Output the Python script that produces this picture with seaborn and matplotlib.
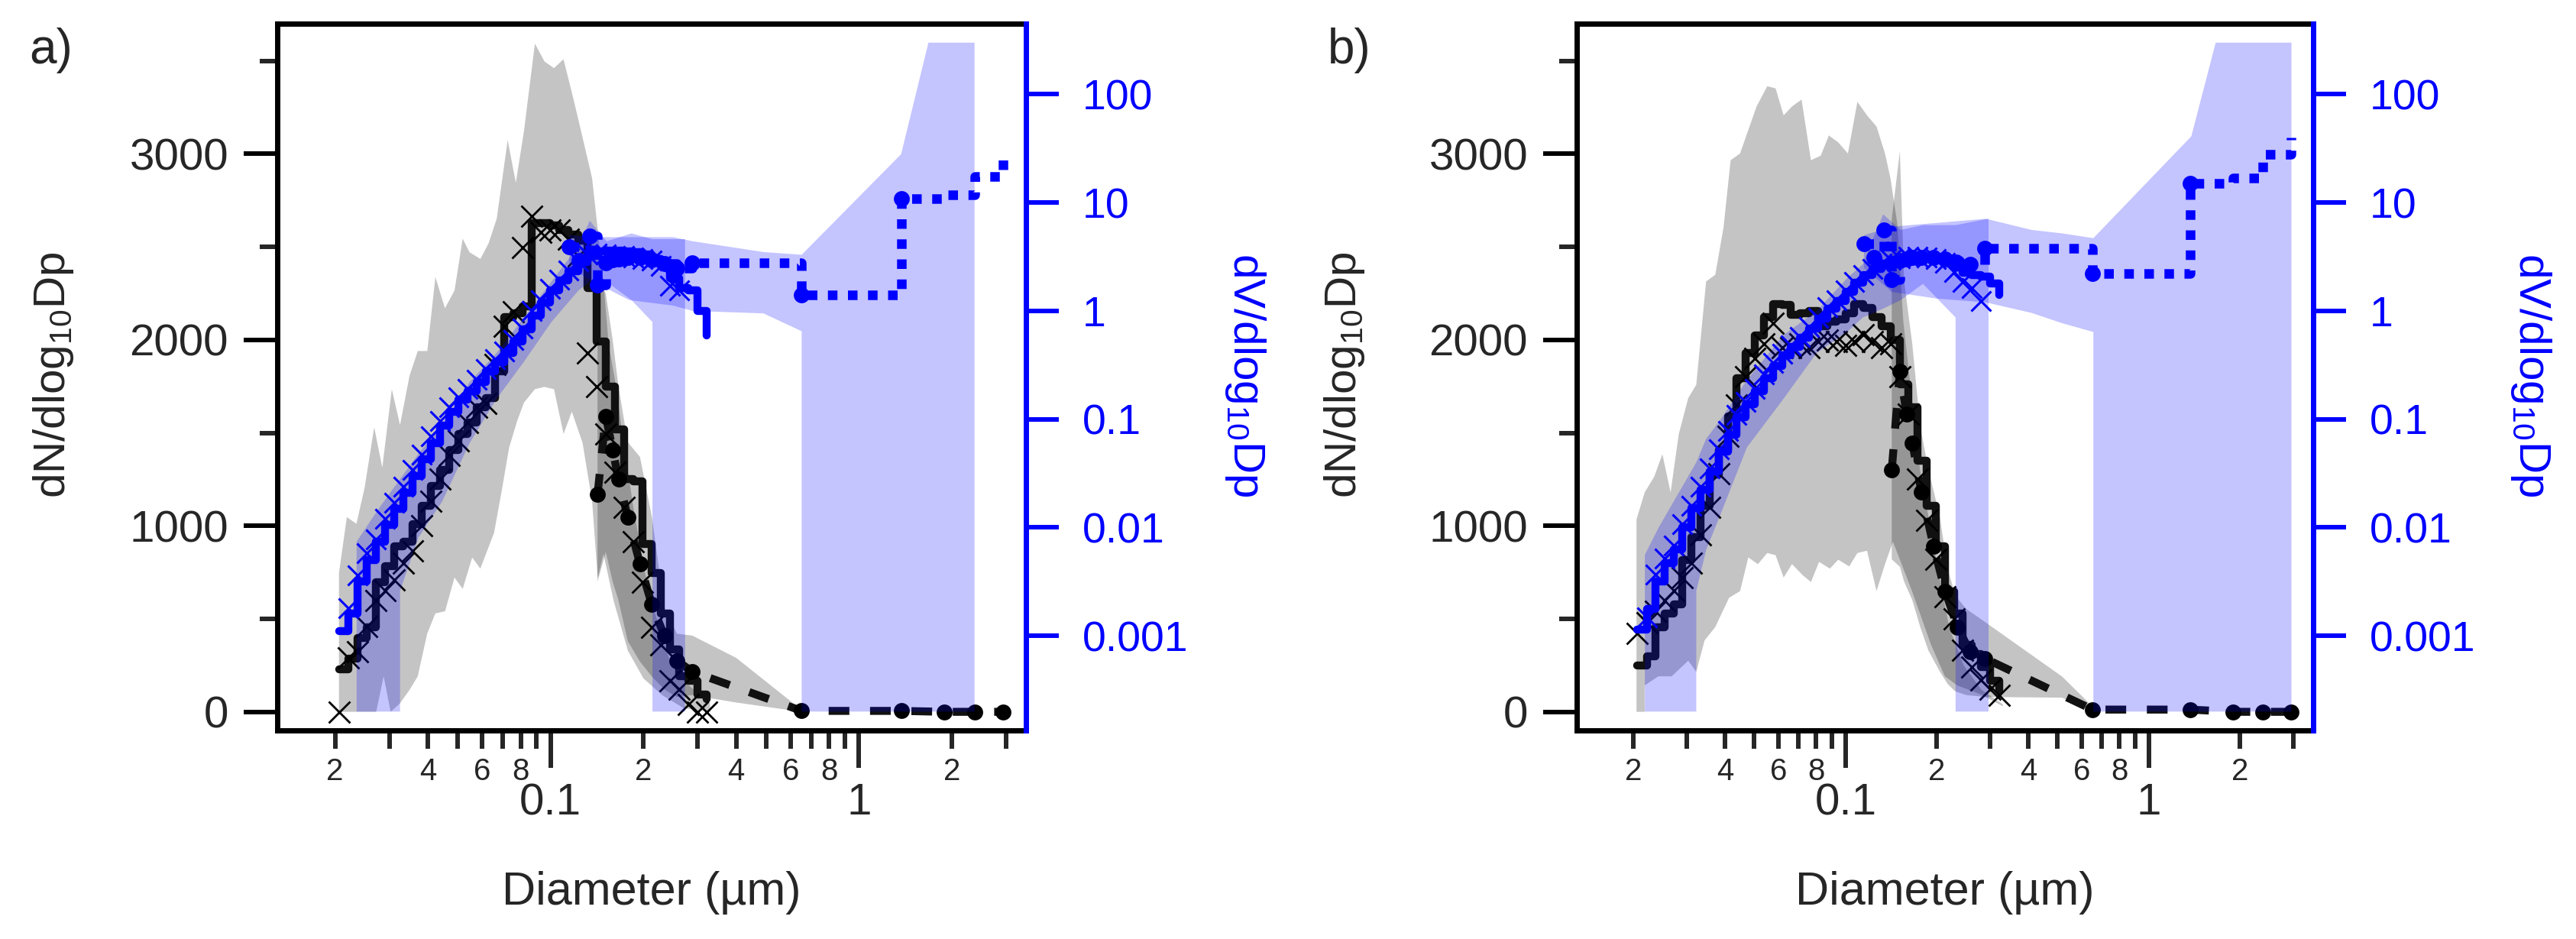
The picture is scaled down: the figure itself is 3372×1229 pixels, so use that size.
import numpy as np
import seaborn as sns
import matplotlib
matplotlib.use("Agg")
import matplotlib.pyplot as plt
from matplotlib.ticker import MultipleLocator, FixedLocator, FixedFormatter, NullLocator

nan = np.nan

# SMPS bin diameters (um)
smps_d = [0.0206, 0.0221, 0.0236, 0.0253, 0.0271, 0.0290, 0.0311, 0.0333, 0.0357, 0.0382,
          0.0409, 0.0438, 0.0469, 0.0503, 0.0538, 0.0577, 0.0618, 0.0661, 0.0708, 0.0759,
          0.0813, 0.0870, 0.0932, 0.0998, 0.1069, 0.1145, 0.1227, 0.1314, 0.1407, 0.1507,
          0.1614, 0.1729, 0.1852, 0.1983, 0.2124, 0.2275, 0.2437, 0.2610, 0.2795, 0.2994, 0.3206]

# panel a - number (step) and number (x markers)
n_step_a = [227, 287, 396, 456, 697, 782, 891, 915, 1011, 1108, 1216, 1301, 1409, 1494, 1554,
            1639, 1687, 1832, 2121, 2145, 2182, 2628, 2628, 2616, 2592, 2568, 2532, 2278, 1989,
            1747, 1518, 1252, 1240, 903, 746, 529, 335, 191, 167, 94, 70]
n_x_a = [0, 290, 324, 460, 600, 650, 710, 800, 866, 1000, 1132, 1253, 1380, 1458, 1554, 1638,
         1660, 1868, 2073, 2150, 2495, 2664, 2580, 2592, 2592, 2540, 2450, 1928, 1747, 1494,
         1289, 1100, 915, 698, 456, 360, 166, 120, 40, 0, 0]
# panel a - volume
v_step_a = [0.0011, 0.0016, 0.0032, 0.0050, 0.0074, 0.0105, 0.0148, 0.021, 0.030, 0.043,
            0.060, 0.087, 0.117, 0.151, 0.182, 0.219, 0.275, 0.339, 0.407, 0.525, 0.676, 0.912,
            1.20, 1.55, 1.91, 2.34, 2.82, 3.24, 3.55, 3.63, 3.63, 3.55, 3.47, 3.31, 3.02, 2.63,
            2.0, 1.62, 1.55, 1.0, 0.59]
v_x_a = [0.0011, 0.0018, 0.0036, 0.0058, 0.0078, 0.0120, 0.0170, 0.024, 0.034, 0.047,
         0.070, 0.097, 0.13, 0.16, 0.19, 0.23, 0.29, 0.36, 0.42, 0.54, 0.69, 1.0,
         1.25, 1.6, 1.95, 2.37, 2.86, 3.3, 3.4, 3.3, 3.2, 3.2, 3.1, 3.0, 2.9, 2.6,
         1.7, 1.55, 1.5, 1.0, 0.59]

# panel b
n_step_b = [251, 299, 456, 529, 577, 818, 939, 1108, 1277, 1409, 1590, 1795, 1928, 2025, 2121,
            2194, 2189, 2133, 2145, 2157, 2073, 2097, 2109, 2145, 2194, 2170, 2121, 2073, 2000,
            1759, 1639, 1349, 1108, 891, 649, 529, 360, 311, 239, 167, 118]
n_x_b = [420, 480, 540, 600, 650, 720, 800, 950, 1100, 1280, 1480, 1650, 1800, 1900, 1980,
         2090, 1960, 1960, 1980, 1960, 1990, 2000, 1990, 1970, 1990, 2030, 1990, 1960, 1980,
         1800, 1600, 1250, 1030, 820, 620, 500, 330, 240, 170, 120, 90]
v_step_b = [0.00115, 0.00178, 0.00316, 0.00468, 0.0063, 0.0100, 0.0151, 0.0224, 0.0331, 0.0501,
            0.0724, 0.105, 0.138, 0.182, 0.240, 0.309, 0.389, 0.468, 0.562, 0.692, 0.851, 1.05,
            1.23, 1.51, 1.82, 2.14, 2.45, 2.75, 2.95, 3.09, 3.16, 3.16, 3.16, 3.09, 2.82, 2.51,
            2.24, 2.14, 2.09, 1.78, 1.41]
v_x_b = [0.00115, 0.00148, 0.0037, 0.0052, 0.0068, 0.0108, 0.0160, 0.024, 0.035, 0.053,
         0.078, 0.11, 0.145, 0.19, 0.26, 0.33, 0.40, 0.48, 0.58, 0.71, 0.87, 1.08,
         1.26, 1.55, 1.86, 2.14, 2.45, 2.75, 2.95, 3.09, 3.16, 3.16, 3.1, 3.0, 2.8, 2.29,
         1.86, 1.62, 1.23, 1.78, 1.41]

# OPC bins
opc_d = [0.115, 0.124, 0.134, 0.142, 0.151, 0.159, 0.166, 0.178, 0.195, 0.213, 0.234, 0.257,
         0.288, 0.652, 1.37, 1.89, 2.37, 2.94]
opc_n_a = [nan, nan, nan, 1168, 1590, 1409, 1252, 1047, 794, 577, 408, 275, 216, 5, 5, 0, 0, 0]
opc_v_a = [3.9, 2.9, 4.9, 1.74, 2.8, 2.95, 3.0, 3.1, 3.1, 2.95, 2.75, 2.5, 2.8, 1.4, 10.8, 11.8, 17.4, 30]
opc_n_b = [nan, nan, nan, 1301, 1832, 1602, 1446, 1180, 891, 649, 456, 323, 287, 12, 12, 0, 0, 0]
opc_v_b = [4.19, 3.14, 5.6, 1.95, 2.9, 3.0, 3.1, 3.1, 3.1, 3.0, 2.8, 2.7, 3.8, 2.2, 15.0, 17.0, 27.9, 40]

# gray bands (number), panel a
ga_up_x = [0.0206, 0.02185, 0.02347, 0.02494, 0.0268, 0.02847, 0.03057, 0.0325, 0.03489, 0.0371,
           0.03984, 0.04232, 0.04545, 0.04883, 0.05189, 0.0546, 0.05923, 0.06295, 0.06691, 0.0726,
           0.07716, 0.082, 0.08896, 0.09554, 0.10259, 0.11015, 0.11829, 0.12704, 0.13637, 0.1484,
           0.1543, 0.1637, 0.1709, 0.1852, 0.201, 0.2183, 0.2423, 0.2804, 0.3289]
ga_up = [746, 1047, 1011, 1204, 1530, 1313, 1735, 1542, 1807, 1940, 1940, 2338, 2170, 2266, 2544,
         2471, 2435, 2519, 2652, 3074, 2845, 3123, 3593, 3497, 3461, 3509, 3304, 3087, 2869, 2314,
         1976, 1735, 1494, 1108, 770, 529, 287, 143, 46]
ga_lo_x = [0.0206, 0.0235, 0.0272, 0.02876, 0.0303, 0.0325, 0.0349, 0.0371, 0.0398, 0.0423,
           0.0455, 0.0488, 0.0519, 0.0557, 0.0592, 0.0656, 0.0697, 0.0734, 0.078, 0.082,
           0.089, 0.0955, 0.1026, 0.1102, 0.1172, 0.127, 0.1364, 0.1422, 0.1484, 0.16,
           0.178, 0.2, 0.23, 0.27, 0.3289]
ga_lo = [0, 0, 0, 191, 0, 46, 118, 191, 420, 529, 541, 722, 661, 830, 770, 963, 1204, 1421, 1566,
         1663, 1735, 1747, 1735, 1494, 1614, 1446, 1132, 720, 850, 600, 330, 180, 90, 20, 0]
go_a_x = [0.142, 0.151, 0.159, 0.166, 0.178, 0.195, 0.213, 0.234, 0.257, 0.288, 0.40, 0.652]
go_a_up = [2330, 2250, 2000, 1750, 1450, 1370, 1050, 560, 420, 410, 290, 10]
go_a_lo = [700, 860, 700, 600, 380, 270, 190, 120, 80, 90, 50, 0]

# gray bands (number), panel b
gb_up_x = [0.02046, 0.02177, 0.0234, 0.0249, 0.0265, 0.0282, 0.0303, 0.0322, 0.0347, 0.0372,
           0.0396, 0.0418, 0.0449, 0.0509, 0.0552, 0.0588, 0.0625, 0.0666, 0.0716, 0.0769,
           0.0828, 0.0881, 0.0946, 0.1018, 0.1094, 0.1177, 0.1265, 0.1349, 0.1406, 0.148,
           0.155, 0.165, 0.176, 0.19, 0.205, 0.22, 0.245, 0.28, 0.33]
gb_up = [1035, 1180, 1264, 1385, 1180, 1494, 1687, 1759, 2314, 2350, 2604, 2966, 3002, 3255, 3364,
         3352, 3207, 3255, 3292, 2966, 2990, 3099, 3062, 3002, 3280, 3207, 3147, 3002, 2869, 2628,
         2100, 1700, 1300, 1000, 700, 450, 250, 120, 40]
gb_lo_x = [0.02046, 0.02177, 0.02177, 0.02415, 0.02673, 0.0303, 0.0322, 0.0343, 0.0372, 0.0413,
           0.0449, 0.0478, 0.0514, 0.0552, 0.0588, 0.0625, 0.0666, 0.0723, 0.0769, 0.0818,
           0.0888, 0.0946, 0.1028, 0.1094, 0.1177, 0.1265, 0.1349, 0.1433, 0.1656, 0.1914,
           0.2125, 0.2335, 0.2786, 0.33]
gb_lo = [0, 0, 142, 191, 191, 275, 215, 384, 456, 613, 649, 830, 794, 854, 842, 722, 794, 734,
         698, 806, 770, 818, 782, 854, 866, 649, 794, 915, 649, 360, 191, 142, 94, 30]
go_b_x = [0.142, 0.151, 0.156, 0.166, 0.176, 0.1875, 0.204, 0.217, 0.23, 0.25, 0.29, 0.518, 0.652]
go_b_up = [2650, 3014, 2314, 1976, 1542, 1301, 1059, 770, 625, 553, 480, 189, 28]
go_b_lo = [820, 780, 700, 600, 460, 330, 220, 150, 110, 90, 80, 76, 0]

# blue bands (volume), panel a
bsa_x = [0.0235, 0.0275, 0.0325, 0.0325, 0.0373, 0.0445, 0.0546, 0.0669, 0.082, 0.1006, 0.1233,
         0.134, 0.152, 0.183, 0.214, 0.214, 0.273]
bsa_up = [0.0074, 0.0145, 0.028, 0.028, 0.048, 0.089, 0.22, 0.41, 0.87, 1.86, 4.0, 6.8, 4.4, 5.2,
          4.6, 4.6, 4.6]
bsa_lo = [2e-4, 2e-4, 2e-4, 0.0026, 0.0081, 0.0174, 0.060, 0.155, 0.34, 0.79, 1.55, 1.86, 1.86,
          1.26, 0.79, 2e-4, 2e-4]
boa_x = [0.115, 0.142, 0.18, 0.25, 0.289, 0.49, 0.652, 0.652, 1.37, 1.68, 2.37]
boa_up = [5.0, 4.8, 4.8, 4.8, 4.4, 3.5, 3.3, 3.3, 28, 300, 300]
boa_lo = [2.5, 1.78, 1.26, 1.12, 1.0, 0.95, 0.65, 2e-4, 2e-4, 2e-4, 2e-4]

# blue bands (volume), panel b
bsb_x = [0.0218, 0.0242, 0.0297, 0.0322, 0.0322, 0.0347, 0.0386, 0.0473, 0.0625, 0.0803, 0.1018,
         0.114, 0.133, 0.152, 0.18, 0.2305, 0.2305, 0.296]
bsb_up = [0.0056, 0.010, 0.027, 0.04, 0.04, 0.066, 0.098, 0.23, 0.6, 1.0, 2.04, 2.7, 7.8, 5.6,
          6.2, 6.2, 6.2, 7.1]
bsb_lo = [2e-4, 2e-4, 2e-4, 2e-4, 0.0026, 0.0062, 0.013, 0.055, 0.155, 0.41, 0.65, 0.87, 1.05,
          1.26, 1.78, 0.87, 2e-4, 2e-4]
bob_x = [0.115, 0.142, 0.2, 0.29, 0.41, 0.518, 0.656, 0.656, 1.38, 1.66, 2.95]
bob_up = [5.0, 6.0, 6.5, 7.1, 5.6, 5.2, 4.7, 4.7, 41, 300, 300]
bob_lo = [2.5, 1.5, 1.3, 1.2, 0.96, 0.77, 0.64, 2e-4, 2e-4, 2e-4, 2e-4]

x_minor = [0.02, 0.03, 0.04, 0.05, 0.06, 0.07, 0.08, 0.09,
           0.2, 0.3, 0.4, 0.5, 0.6, 0.7, 0.8, 0.9, 2, 3]
x_minor_lab = ["2", "", "4", "", "6", "", "8", "", "2", "", "4", "", "6", "", "8", "", "2", ""]
v_ticks = [0.001, 0.01, 0.1, 1, 10, 100]
v_tick_lab = ["0.001", "0.01", "0.1", "1", "10", "100"]

BLUE = "#0000ff"

sns.set_theme(style="ticks")
plt.rcParams["font.family"] = ["Liberation Sans", "DejaVu Sans"]
plt.rcParams["mathtext.fontset"] = "custom"
plt.rcParams["mathtext.rm"] = "Liberation Sans"
plt.rcParams["mathtext.it"] = "Liberation Sans:italic"


def band(ax, xu, yu, xl, yl, color):
    xs = list(xu) + list(xl)[::-1]
    ys = list(yu) + list(yl)[::-1]
    ax.fill(xs, ys, color=color, alpha=0.23, lw=0, zorder=1)


def panel(ax, n_step, n_x, v_step, v_x, vx_stop, opc_n, opc_v,
          g1, g2, b1, b2, ylab_x, y2lab_x):
    ax.set_xscale("log")
    ax.set_xlim(0.0130, 3.48)
    ax.set_ylim(-100, 3700)

    band(ax, *g1, "black")
    band(ax, *g2, "black")
    sns.lineplot(x=smps_d, y=n_step, ax=ax, drawstyle="steps-post", color="#111111",
                 linewidth=7.5, estimator=None, sort=False, zorder=3)
    ax.plot(smps_d, n_x, ls="none", marker="x", ms=20, mew=2.0, color="black", zorder=4)
    sns.lineplot(x=opc_d, y=opc_n, ax=ax, color="#111111", linewidth=7.5, estimator=None,
                 sort=False, zorder=3)
    ax.lines[-1].set_dashes([2.6, 2.6])
    ax.plot(opc_d, opc_n, ls="none", marker="o", ms=15, color="black", mec="none", zorder=4)

    ax.xaxis.set_major_locator(FixedLocator([0.1, 1]))
    ax.xaxis.set_major_formatter(FixedFormatter(["0.1", "1"]))
    ax.xaxis.set_minor_locator(FixedLocator(x_minor))
    ax.xaxis.set_minor_formatter(FixedFormatter(x_minor_lab))
    ax.yaxis.set_major_locator(MultipleLocator(1000))
    ax.yaxis.set_minor_locator(MultipleLocator(500))
    ax.tick_params(axis="y", which="major", length=32, width=4.3, labelsize=42, pad=14,
                   direction="out", color="black")
    ax.tick_params(axis="y", which="minor", length=16.5, width=4.3, direction="out")
    ax.tick_params(axis="x", which="major", length=35, width=4.3, labelsize=42, pad=14,
                   direction="out")
    ax.tick_params(axis="x", which="minor", length=17, width=4.3, labelsize=29, pad=8,
                   direction="out")
    for s in ["left", "bottom", "top"]:
        ax.spines[s].set_linewidth(5)
        ax.spines[s].set_color("black")
    ax.spines["right"].set_visible(False)

    ax.set_xlabel("Diameter (µm)", fontsize=44, va="center")
    ax.xaxis.set_label_coords(0.5, -0.23)
    ax.set_ylabel(r"dN/dlog$_{\mathregular{10}}$Dp", fontsize=42, va="center")
    ax.yaxis.set_label_coords(ylab_x, 0.503)

    ax2 = ax.twinx()
    ax2.set_yscale("log")
    ax2.set_ylim(1.34e-4, 449)
    band(ax2, *b1, BLUE)
    band(ax2, *b2, BLUE)
    sns.lineplot(x=smps_d, y=v_step, ax=ax2, drawstyle="steps-post", color=BLUE,
                 linewidth=7.5, estimator=None, sort=False, zorder=2)
    ax2.plot(smps_d[1:vx_stop], v_x[1:vx_stop], ls="none", marker="x", ms=19, mew=2.2,
             color=BLUE, zorder=4)
    sns.lineplot(x=opc_d, y=opc_v, ax=ax2, drawstyle="steps-post", color=BLUE, linewidth=9,
                 estimator=None, sort=False, zorder=3)
    ax2.lines[-1].set_dashes([1, 1.1])
    ax2.lines[-1].set_dash_capstyle("butt")
    ax2.plot(opc_d[:15], opc_v[:15], ls="none", marker="o", ms=15, color=BLUE, mec="none",
             zorder=4)

    ax2.yaxis.set_major_locator(FixedLocator(v_ticks))
    ax2.yaxis.set_major_formatter(FixedFormatter(v_tick_lab))
    ax2.yaxis.set_minor_locator(NullLocator())
    ax2.tick_params(axis="y", which="major", length=31, width=4.3, labelsize=40, pad=22,
                    direction="out", colors=BLUE)
    for s in ["left", "bottom", "top"]:
        ax2.spines[s].set_visible(False)
    ax2.spines["right"].set_linewidth(5)
    ax2.spines["right"].set_color(BLUE)
    ax2.set_ylabel(r"dV/dlog$_{\mathregular{10}}$Dp", fontsize=42, color=BLUE,
                   rotation=270, va="center")
    ax2.yaxis.set_label_coords(y2lab_x, 0.503)
    return ax2


fig = plt.figure(figsize=(33.72, 12.29), dpi=100)
ax_a = fig.add_axes([363 / 3372, 273 / 1229, 980 / 3372, 925 / 1229])
ax_b = fig.add_axes([2064 / 3372, 273 / 1229, 964 / 3372, 925 / 1229])

panel(ax_a, n_step_a, n_x_a, v_step_a, v_x_a, 38, opc_n_a, opc_v_a,
      (ga_up_x, ga_up, ga_lo_x, ga_lo), (go_a_x, go_a_up, go_a_x, go_a_lo),
      (bsa_x, bsa_up, bsa_x, bsa_lo), (boa_x, boa_up, boa_x, boa_lo), -0.299, 1.293)
panel(ax_b, n_step_b, n_x_b, v_step_b, v_x_b, 39, opc_n_b, opc_v_b,
      (gb_up_x, gb_up, gb_lo_x, gb_lo), (go_b_x, go_b_up, go_b_x, go_b_lo),
      (bsb_x, bsb_up, bsb_x, bsb_lo), (bob_x, bob_up, bob_x, bob_lo), -0.315, 1.296)

fig.text(38 / 3372, 1 - 36 / 1229, "a)", fontsize=46, ha="left", va="top")
fig.text(1738 / 3372, 1 - 36 / 1229, "b)", fontsize=46, ha="left", va="top")

fig.savefig("out.png", dpi=100)
